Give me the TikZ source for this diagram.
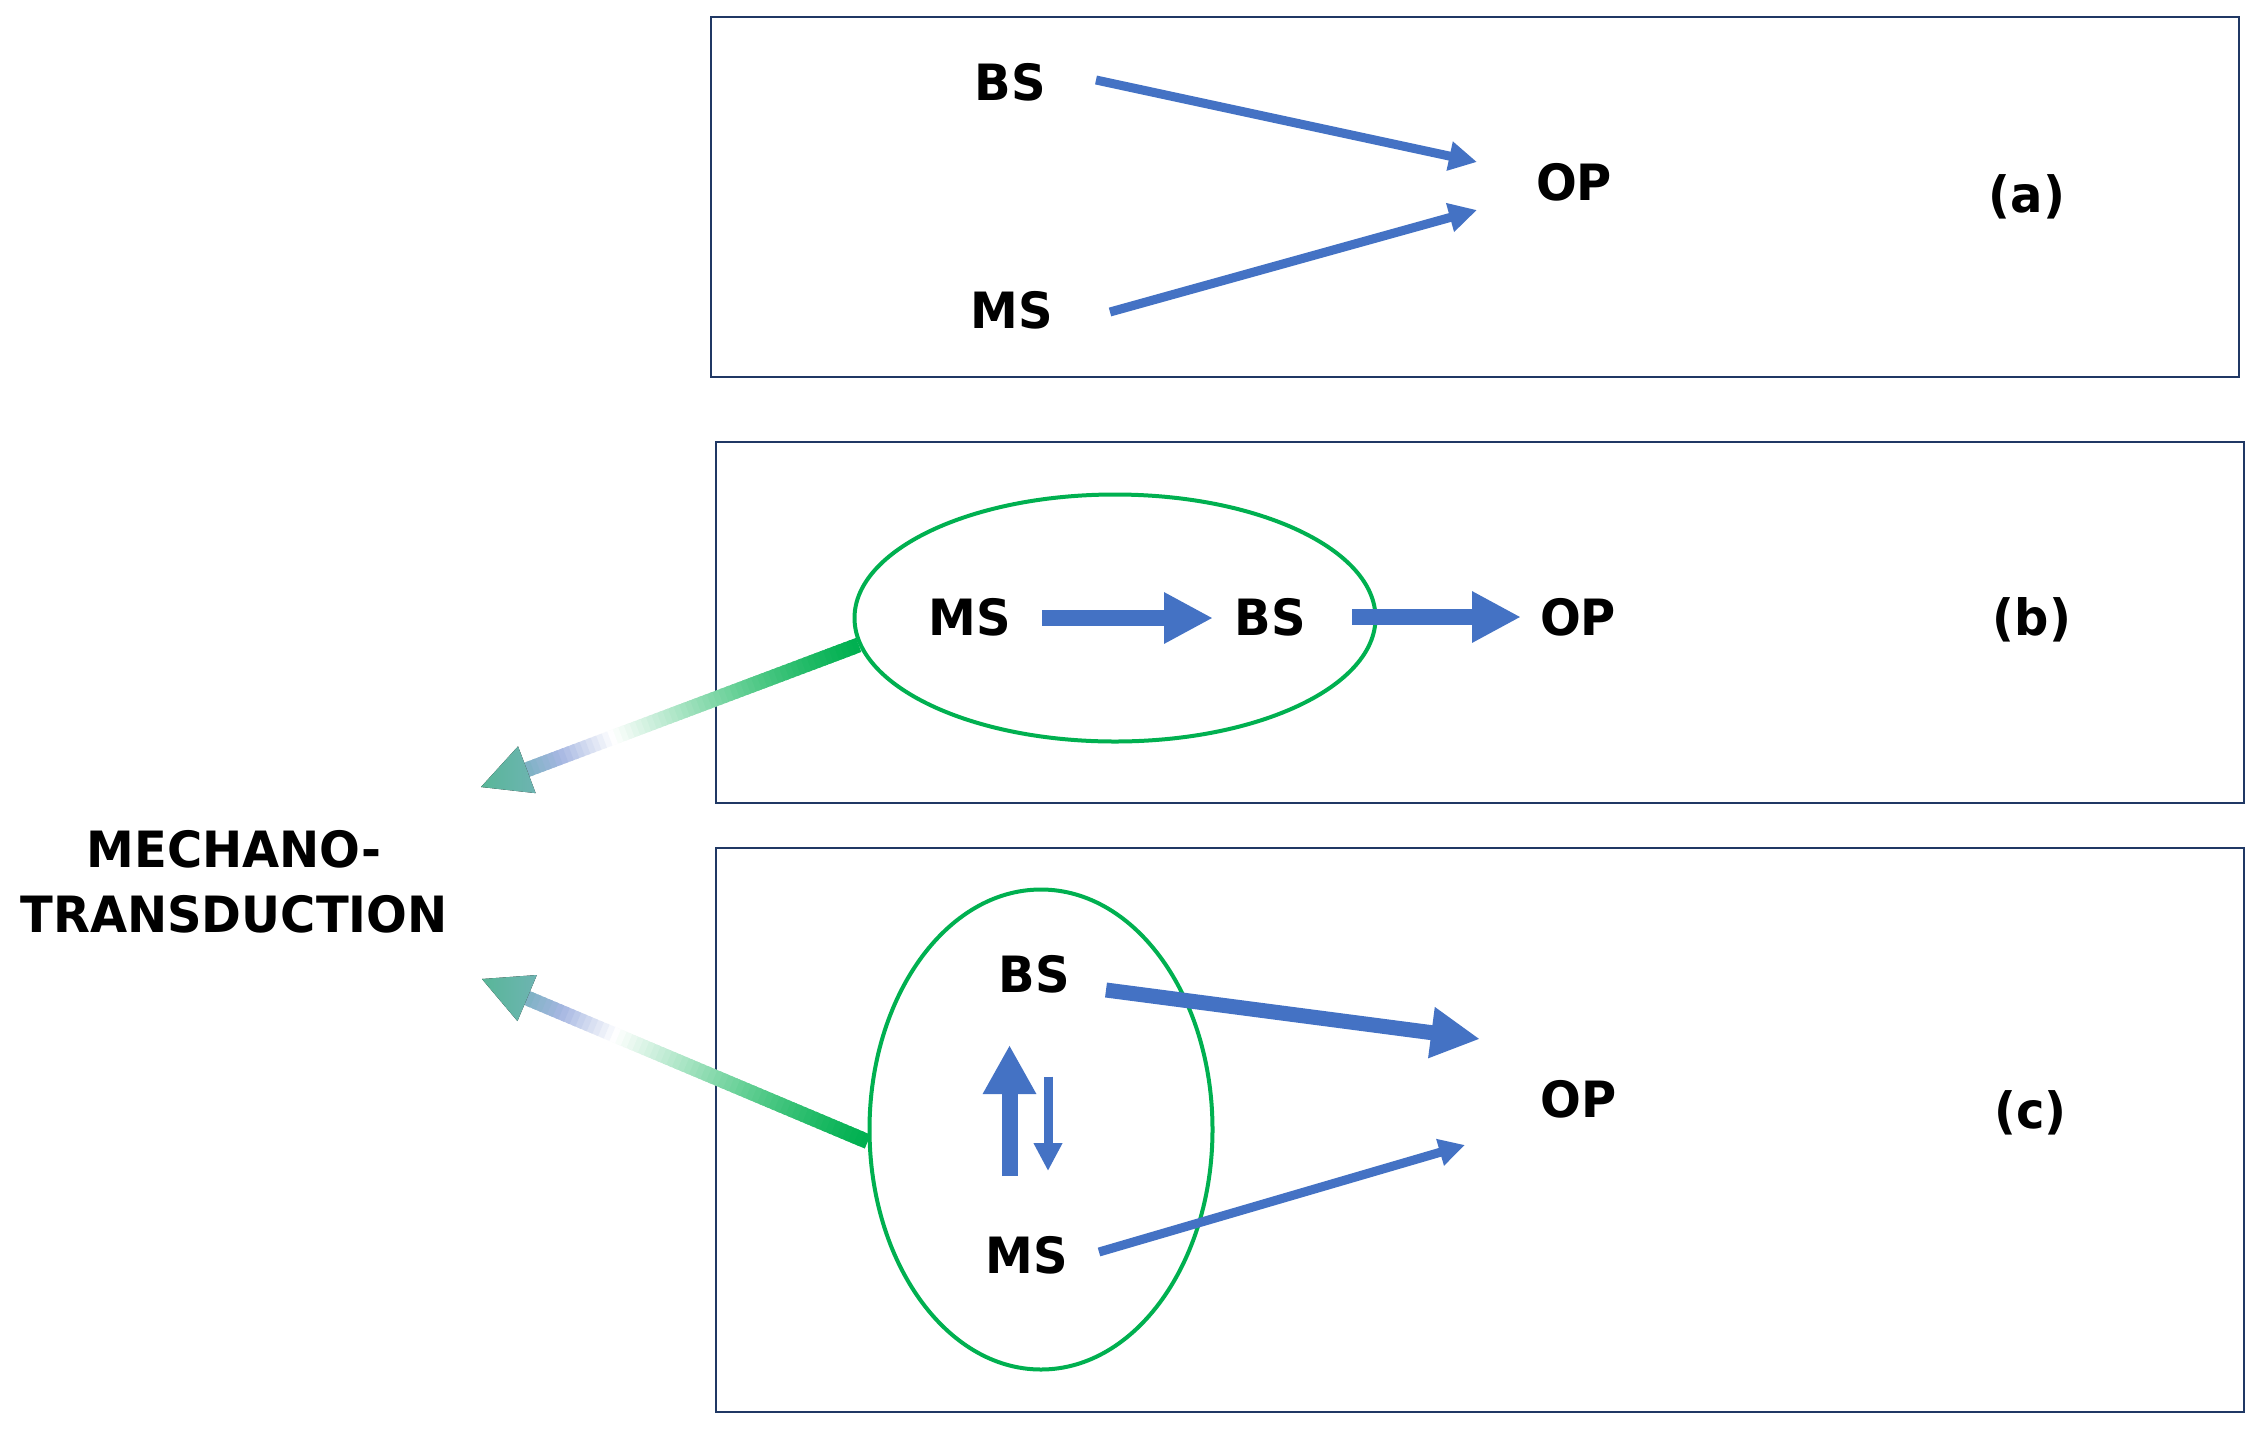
\documentclass[tikz,border=0pt]{standalone}
\usepackage{fontspec}
\setmainfont{DejaVu Sans}[FakeStretch=0.96]
\usetikzlibrary{arrows.meta,shapes.geometric,calc}
\definecolor{panelline}{RGB}{32,56,100}
\definecolor{arrowblue}{RGB}{68,114,196}
\definecolor{ringgreen}{RGB}{0,176,80}
\definecolor{gA}{RGB}{0,176,80}
\definecolor{gL}{RGB}{165,182,225}
\definecolor{gT}{RGB}{125,178,195}
\definecolor{gH}{RGB}{88,182,152}
\definecolor{gHb}{RGB}{110,180,178}
\begin{document}
\begin{tikzpicture}[x=1pt,y=-1pt,
  lbl/.style={font=\fontsize{50}{65}\selectfont\bfseries, inner sep=0pt, align=center},
  panel/.style={draw=panelline, line width=2.6pt},
  ring/.style={draw=ringgreen, line width=4pt, ellipse, inner sep=0pt},
  thinarrow/.style={draw=arrowblue, line width=9pt, -{Triangle[length=28pt,width=28pt]}},
  thickarrow/.style={draw=arrowblue, line width=16pt, -{Triangle[length=49pt,width=48pt]}},
  midarrow/.style={draw=arrowblue, line width=15pt, -{Triangle[length=49pt,width=48pt]}},
  downarrow/.style={draw=arrowblue, line width=9pt, -{Triangle[length=28pt,width=27pt]}},
  uparrow/.style={draw=arrowblue, line width=16pt, -{Triangle[length=49pt,width=50pt]}}
]
\fill[white] (0,0) rectangle (2267,1438);
\useasboundingbox (0,0) rectangle (2267,1438);

% panels
\draw[panel] (711,17) rectangle (2239,377);
\draw[panel] (716,442) rectangle (2244,803);
\draw[panel] (716,848) rectangle (2244,1412);

% ellipses
\node[ring, minimum width=521pt, minimum height=247pt] (ellb) at (1115,618) {};
\node[ring, minimum width=343pt, minimum height=480pt] (ellc) at (1041,1129.5) {};

% labels panel (a)
\node[lbl] (bsA) at (1010,82.5) {BS};
\node[lbl] (msA) at (1012,310) {MS};
\node[lbl] (opA) at (1574,182) {OP};
\node[lbl] (labA) at (2027,197) {(a)};
% panel (b)
\node[lbl] (msB) at (970,617) {MS};
\node[lbl] (bsB) at (1270,617) {BS};
\node[lbl] (opB) at (1578,617) {OP};
\node[lbl] (labB) at (2032,620) {(b)};
% panel (c)
\node[lbl] (bsC) at (1034,974) {BS};
\node[lbl] (msC) at (1027,1255) {MS};
\node[lbl] (opC) at (1578.5,1099.5) {OP};
\node[lbl] (labC) at (2030.5,1113) {(c)};
% left label
\node[lbl] (mech) at (234,882) {MECHANO-\\TRANSDUCTION};

% arrow end points
\coordinate (a1s) at (1096,80);   \coordinate (a1e) at (1477,162);
\coordinate (a2s) at (1110,312);  \coordinate (a2e) at (1477,210);
\coordinate (b1s) at (1042,618);  \coordinate (b1e) at (1213,618);
\coordinate (b2s) at (1352,617);  \coordinate (b2e) at (1521,617);
\coordinate (c1s) at (1106,990);  \coordinate (c1e) at (1480,1039);
\coordinate (c2s) at (1099,1252); \coordinate (c2e) at (1465,1145);
\coordinate (c3s) at (1009.5,1176); \coordinate (c3e) at (1009.5,1045);
\coordinate (c4s) at (1048,1076.5); \coordinate (c4e) at (1048,1171);

% blue arrows
\draw[thinarrow] (a1s) -- (a1e);
\draw[thinarrow] (a2s) -- (a2e);
\draw[thickarrow] (b1s) -- (b1e);
\draw[thickarrow] (b2s) -- (b2e);
\draw[midarrow] (c1s) -- (c1e);
\draw[thinarrow, -{Triangle[length=26pt,width=26pt]}] (c2s) -- (c2e);
\draw[uparrow] (c3s) -- (c3e);
\draw[downarrow] (c4s) -- (c4e);

% green gradient arrows to mechanotransduction
\coordinate (g1s) at (ellb.186);
\coordinate (g1t) at (481,787);
\coordinate (g1b) at ($(g1t)!49pt!(g1s)$);
\coordinate (g2s) at (ellc.184);
\coordinate (g2t) at (482,979);
\coordinate (g2b) at ($(g2t)!49pt!(g2s)$);

\foreach \gfrom/\gto in {g1s/g1b, g2s/g2b} {
  \foreach \i in {0,...,59} {
    \pgfmathsetmacro\segA{\i/60}
    \pgfmathsetmacro\segB{min(1,(\i+1.6)/60)}
    \pgfmathsetmacro\segM{(\i+0.5)/60}
    \ifdim\segM pt<0.74pt
      \pgfmathsetmacro\segP{100*(1-(\segM/0.74)^1.3)}
      \colorlet{segc}{gA!\segP!white}
    \else\ifdim\segM pt<0.9pt
      \pgfmathsetmacro\segP{100*(\segM-0.74)/0.16}
      \colorlet{segc}{gL!\segP!white}
    \else
      \pgfmathsetmacro\segP{100*(\segM-0.9)/0.1}
      \colorlet{segc}{gT!\segP!gL}
    \fi\fi
    \draw[draw=segc, line width=15pt] ($(\gfrom)!\segA!(\gto)$) -- ($(\gfrom)!\segB!(\gto)$);
  }
}
\fill[left color=gH, right color=gHb] (g1t) -- ($(g1b)!25pt!90:(g1t)$) -- ($(g1b)!25pt!-90:(g1t)$) -- cycle;
\fill[left color=gH, right color=gHb] (g2t) -- ($(g2b)!25pt!90:(g2t)$) -- ($(g2b)!25pt!-90:(g2t)$) -- cycle;
\end{tikzpicture}
\end{document}
